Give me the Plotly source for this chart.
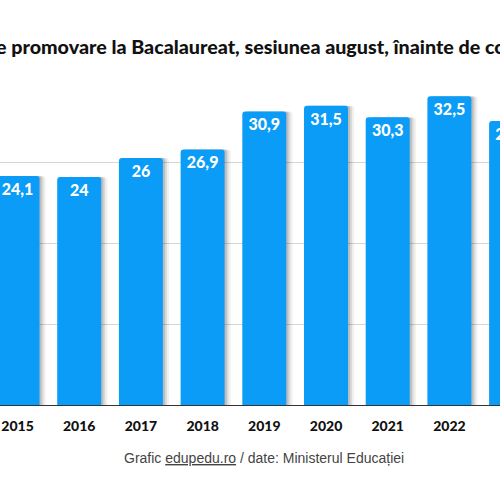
import plotly.graph_objects as go

years = [2015, 2016, 2017, 2018, 2019, 2020, 2021, 2022, 2023]
year_labels = ["2015", "2016", "2017", "2018", "2019", "2020", "2021", "2022", "2023"]
rates = [24.1, 24.0, 26.0, 26.9, 30.9, 31.5, 30.3, 32.5, 29.9]
grid_vals = [0, 8.5, 17, 25.5, 34]

title_text = "Rata de promovare la Bacalaureat, sesiunea august, înainte de contestații"
source_text = "Grafic <u>edupedu.ro</u> / date: Ministerul Educației"

def fmt(v):
    s = ("%.1f" % v).rstrip("0").rstrip(".")
    return s.replace(".", ",")

labels = [fmt(v) for v in rates]

BLUE = "#0a9cf6"
BAR_W = 0.713
BOLD = "Lato"

fig = go.Figure()

# soft shadow layers to the right of each bar
for shift, alpha in [(0.10, 0.06), (0.065, 0.09), (0.035, 0.13)]:
    fig.add_trace(go.Bar(
        x=years, y=rates, width=BAR_W, offset=-BAR_W / 2 + shift,
        marker=dict(color="rgba(0,0,0,%s)" % alpha, line=dict(width=0), cornerradius=3),
        hoverinfo="skip", showlegend=False,
    ))

fig.add_trace(go.Bar(
    x=years, y=rates, width=BAR_W, offset=-BAR_W / 2,
    marker=dict(color=BLUE, line=dict(width=0), cornerradius=3),
    text=labels, textposition="inside", insidetextanchor="end",
    textangle=0, constraintext="none",
    textfont=dict(family=BOLD, size=16, color="white", weight=900),
    showlegend=False,
))

fig.update_layout(
    width=500, height=500,
    margin=dict(l=0, r=0, t=82, b=95, pad=0),
    paper_bgcolor="white", plot_bgcolor="white",
    barmode="overlay",
    xaxis=dict(range=[2014.716, 2022.82], tickvals=years, ticktext=year_labels,
               tickfont=dict(family=BOLD, size=14, color="#111", weight=900),
               ticks="outside", ticklen=8, tickcolor="rgba(0,0,0,0)",
               showgrid=False, zeroline=False, showline=True,
               linecolor="#333", linewidth=1.2, fixedrange=True),
    yaxis=dict(range=[0, 34], tickvals=grid_vals, showticklabels=False,
               showgrid=True, gridcolor="#d6d6d6", gridwidth=1,
               zeroline=False, showline=False, fixedrange=True),
    annotations=[
        dict(text=title_text, xref="paper", yref="paper",
             x=-0.124, y=1.11, xanchor="left", yanchor="middle", showarrow=False,
             font=dict(family=BOLD, size=19.7, color="#111", weight=900)),
        dict(text=source_text, xref="paper", yref="paper",
             x=0.528, y=-0.164, xanchor="center", yanchor="middle", showarrow=False,
             font=dict(family="Liberation Sans", size=14, color="#444")),
    ],
)

fig.write_html(
    "out.html",
    config={"displayModeBar": False},
    post_script="document.body.style.margin='0';document.body.style.overflow='hidden';",
)
